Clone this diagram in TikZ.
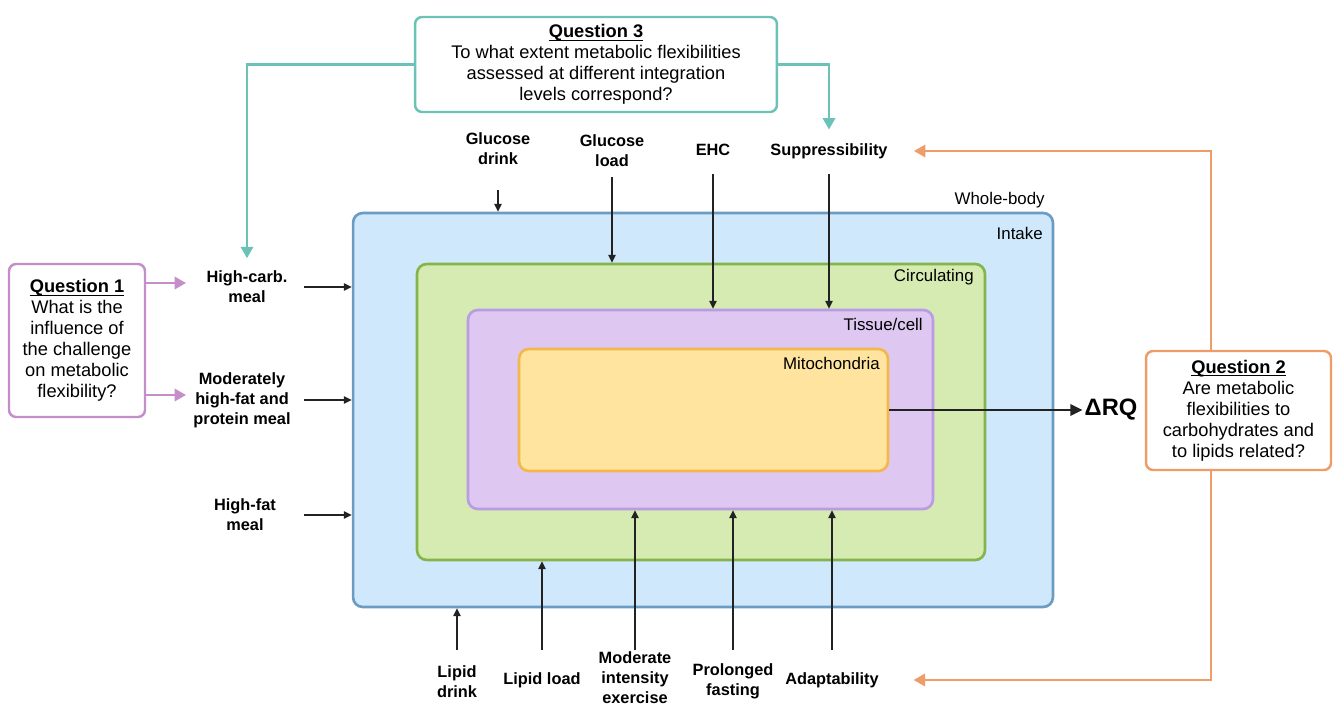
\documentclass[tikz,border=0pt]{standalone}
\usepackage{fontspec}
\setmainfont{Liberation Sans}
\usetikzlibrary{arrows.meta,positioning,calc}
\definecolor{wbfill}{HTML}{D0E8FC}
\definecolor{wbline}{HTML}{6C9CC2}
\definecolor{cifill}{HTML}{D5EBB1}
\definecolor{ciline}{HTML}{84B54A}
\definecolor{tcfill}{HTML}{DEC8F2}
\definecolor{tcline}{HTML}{B99CE4}
\definecolor{mtfill}{HTML}{FFE49F}
\definecolor{mtline}{HTML}{F3B84C}
\definecolor{qone}{HTML}{C48ECB}
\definecolor{qtwo}{HTML}{EE9D69}
\definecolor{qthree}{HTML}{6DC2B7}
\definecolor{ink}{HTML}{222222}
\tikzset{
  layer/.style={draw, line width=1.5pt, rounded corners=5.5pt, inner sep=0pt},
  qbox/.style={draw, line width=1.4pt, rounded corners=4pt, fill=white, align=center, font=\fontsize{10.4}{12}\selectfont, inner sep=0pt},
  lbl/.style={align=center, font=\fontsize{9.3}{11.3}\selectfont\bfseries, inner sep=2pt},
  tag/.style={font=\fontsize{9.6}{11}\selectfont, inner sep=0pt, anchor=east},
  feed/.style={-{Triangle[length=4.5pt,width=4.2pt]}, line width=0.75pt, draw=ink},
  qlink/.style={-{Triangle[length=6.5pt,width=7pt]}, line width=1.4pt}
}
\newcommand{\qhead}[1]{\underline{\raisebox{0pt}[\height][0pt]{\textbf{#1}}}}

\begin{document}
\begin{tikzpicture}[x=0.02cm, y=-0.02cm]
  \useasboundingbox (0,0) rectangle (1333,706);
  % nested integration levels
  \node[layer, fill=wbfill, draw=wbline, minimum width=14cm, minimum height=7.88cm] (wb) at (703,410) {};
  \node[layer, fill=cifill, draw=ciline, minimum width=11.36cm, minimum height=5.92cm] (ci) at (701,412) {};
  \node[layer, fill=tcfill, draw=tcline, minimum width=9.3cm, minimum height=3.98cm] (tc) at (700.5,409.5) {};
  \node[layer, fill=mtfill, draw=mtline, minimum width=7.38cm, minimum height=2.44cm] (mt) at (703.5,410) {};
  \node[tag] (twb) at (1045,200) {Whole-body};
  \node[tag] (tin) at (1043,233) {Intake};
  \node[tag] (tci) at (974,277) {Circulating};
  \node[tag] (ttc) at (923,324) {Tissue/cell};
  \node[tag] (tmt) at (880,363) {Mitochondria};

  % questions
  \node[qbox, draw=qone, minimum width=2.72cm, minimum height=3.06cm] (q1) at (77,340.5)
    {\qhead{Question 1}\\What is the\\influence of\\the challenge\\on metabolic\\flexibility?};
  \node[qbox, draw=qthree, minimum width=7.24cm, minimum height=1.9cm] (q3) at (596,64.5)
    {\qhead{Question 3}\\To what extent metabolic flexibilities\\assessed at different integration\\levels correspond?};
  \node[qbox, draw=qtwo, minimum width=3.7cm, minimum height=2.38cm] (q2) at (1238.5,410.5)
    {\qhead{Question 2}\\Are metabolic\\flexibilities to\\carbohydrates and\\to lipids related?};

  % challenges
  \node[lbl] (lhc) at (247,287) {High-carb.\\meal};
  \node[lbl] (lhf) at (242,400) {Moderately\\high-fat and\\protein meal};
  \node[lbl] (lfm) at (245,515) {High-fat\\meal};
  \node[lbl] (tgd) at (498,149) {Glucose\\drink};
  \node[lbl] (tgl) at (612,151) {Glucose\\load};
  \node[lbl] (tehc) at (713,150) {EHC};
  \node[lbl] (tsup) at (829,151) {Suppressibility};
  \node[lbl] (bld) at (457,682) {Lipid\\drink};
  \node[lbl] (bll) at (542,680) {Lipid load};
  \node[lbl] (bex) at (635,678) {Moderate\\intensity\\exercise};
  \node[lbl] (bpf) at (733,681) {Prolonged\\fasting};
  \node[lbl] (bad) at (832,680) {Adaptability};
  \node[font=\fontsize{13.5}{16}\selectfont\bfseries, inner sep=1pt] (drq) at (1111,410) {ΔRQ};

  \draw[feed] (lhc -| 304,0) -- (lhc -| wb.west);
  \draw[feed] (lhf -| 304,0) -- (lhf -| wb.west);
  \draw[feed] (lfm -| 304,0) -- (lfm -| wb.west);
  \draw[feed] (tgd |- 0,190) -- (tgd |- wb.north);
  \draw[feed] (tgl |- 0,177) -- (tgl |- ci.north);
  \draw[feed] (tehc |- 0,174) -- (tehc |- tc.north);
  \draw[feed] (tsup |- 0,174) -- (tsup |- tc.north);
  \draw[feed] (bld |- 0,650) -- (bld |- wb.south);
  \draw[feed] (bll |- 0,650) -- (bll |- ci.south);
  \draw[feed] (bex |- 0,650) -- (bex |- tc.south);
  \draw[feed] (bpf |- 0,650) -- (bpf |- tc.south);
  \draw[feed] (bad |- 0,650) -- (bad |- tc.south);
  \draw[feed, line width=1.4pt, -{Triangle[length=7pt,width=6.5pt]}] (mt.east) -- (drq.west);

  % question links
  \coordinate (q1a) at (186,283);
  \coordinate (q1b) at (186,395);
  \draw[qlink, qone] (q1.east |- q1a) -- (q1a);
  \draw[qlink, qone] (q1.east |- q1b) -- (q1b);
  \draw[qlink, qthree] (q3.west) -| ([yshift=0.18cm]lhc.north);
  \draw[qlink, qthree] (q3.east) -| ([yshift=0.2cm]tsup.north);
  \draw[qlink, qtwo] ([xshift=-0.55cm]q2.north) |- ([xshift=0.45cm]tsup.east);
  \draw[qlink, qtwo] ([xshift=-0.55cm]q2.south) |- ([xshift=0.62cm]bad.east);
\end{tikzpicture}
\end{document}
